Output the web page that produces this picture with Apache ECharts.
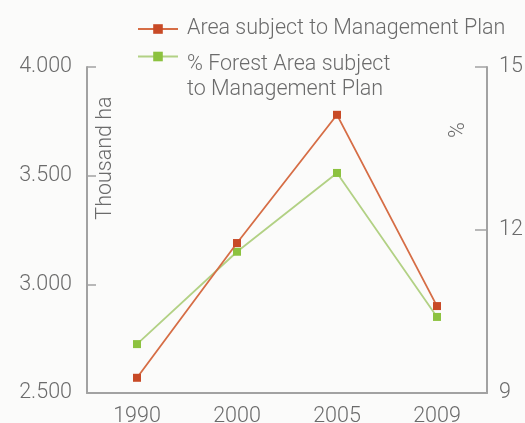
<!DOCTYPE html>
<html>
<head>
<meta charset="utf-8">
<script src="https://cdn.jsdelivr.net/npm/echarts@6/dist/echarts.min.js"></script>
<style>
  html, body { margin: 0; padding: 0; background: #fbfbfa; }
  #chart { width: 525px; height: 423px; }
</style>
</head>
<body>
<div id="chart"></div>
<script>
// Forest area under management plans, by year
const years = ['1990', '2000', '2005', '2009'];
const areaThousandHa = [2570, 3190, 3780, 2900];   // thousand ha (left axis)
const forestSharePct = [9.9, 11.6, 13.05, 10.4];   // % of forest area (right axis)

const areaName = 'Area subject to Management Plan';
const shareLines = ['% Forest Area subject', 'to Management Plan'];
const shareName = shareLines.join(' ');

const FONT = 'Roboto, "Liberation Sans", sans-serif';
const AXIS_COLOR = '#a2a2a2';
const TEXT_COLOR = '#6b6b6b';
const RED_LINE = '#d66d45', RED_MARK = '#c84a26';
const GREEN_LINE = '#b2d184', GREEN_MARK = '#8cc23f';

// 4000 -> "4.000"
const dotThousands = v => String(v).replace(/\B(?=(\d{3})+(?!\d))/g, '.');

const labelStyle = { color: TEXT_COLOR, fontFamily: FONT, fontSize: 21.5, fontWeight: 300 };

const chart = echarts.init(document.getElementById('chart'), null, { renderer: 'canvas' });
chart.setOption({
  backgroundColor: '#fbfbfa',
  animation: false,
  textStyle: { fontFamily: FONT },
  grid: { left: 87, right: 38, top: 67, bottom: 30, containLabel: false, outerBoundsMode: 'none' },
  legend: [
    {
      data: [areaName],
      orient: 'vertical',
      left: 132, top: 13,
      itemWidth: 40, itemHeight: 12,
      textStyle: Object.assign({}, labelStyle, { padding: [0, 0, 0, 4] })
    },
    {
      // two-line label hanging below the icon: a spacer line pushes the text down
      data: [shareName],
      orient: 'vertical',
      left: 132, top: 6,
      itemWidth: 40, itemHeight: 12,
      formatter: () => '{gap| }\n{t|' + shareLines[0] + '}\n{t|' + shareLines[1] + '}',
      textStyle: Object.assign({}, labelStyle, {
        padding: [0, 0, 0, 4],
        rich: {
          gap: { height: 41, lineHeight: 41, fontSize: 4 },
          t: { lineHeight: 25, fontSize: 21.5, fontFamily: FONT, fontWeight: 300, color: TEXT_COLOR }
        }
      })
    }
  ],
  xAxis: {
    type: 'category',
    data: years,
    boundaryGap: true,
    axisLine: { lineStyle: { color: AXIS_COLOR, width: 2 } },
    axisTick: { inside: true, length: 7, lineStyle: { color: AXIS_COLOR, width: 1.5 } },
    axisLabel: Object.assign({}, labelStyle, { margin: 13 })
  },
  yAxis: [
    {
      type: 'value',
      min: 2500, max: 4000, interval: 500,
      splitLine: { show: false },
      axisLine: { show: true, lineStyle: { color: AXIS_COLOR, width: 2 } },
      axisTick: { show: true, inside: true, length: 9, lineStyle: { color: AXIS_COLOR, width: 1.5 } },
      axisLabel: Object.assign({}, labelStyle, { margin: 15, formatter: dotThousands })
    },
    {
      type: 'value',
      min: 9, max: 15, interval: 3,
      position: 'right',
      splitLine: { show: false },
      axisLine: { show: true, lineStyle: { color: AXIS_COLOR, width: 2 } },
      axisTick: { show: true, inside: true, length: 12, lineStyle: { color: AXIS_COLOR, width: 1.5 } },
      axisLabel: Object.assign({}, labelStyle, { margin: 12 })
    }
  ],
  graphic: [
    {
      type: 'text', x: 106, y: 158, rotation: Math.PI / 2,
      style: { text: 'Thousand ha', fill: TEXT_COLOR, font: '300 21.5px ' + FONT, align: 'center', verticalAlign: 'middle' }
    },
    {
      type: 'text', x: 459, y: 130, rotation: Math.PI / 2,
      style: { text: '%', fill: TEXT_COLOR, font: '300 21.5px ' + FONT, align: 'center', verticalAlign: 'middle' }
    }
  ],
  series: [
    {
      name: areaName,
      type: 'line',
      yAxisIndex: 0,
      data: areaThousandHa,
      symbol: 'rect', symbolSize: 8,
      lineStyle: { color: RED_LINE, width: 1.8 },
      itemStyle: { color: RED_MARK },
      z: 3
    },
    {
      name: shareName,
      type: 'line',
      yAxisIndex: 1,
      data: forestSharePct,
      symbol: 'rect', symbolSize: 8,
      lineStyle: { color: GREEN_LINE, width: 1.8 },
      itemStyle: { color: GREEN_MARK },
      z: 2
    }
  ]
});
</script>
</body>
</html>
